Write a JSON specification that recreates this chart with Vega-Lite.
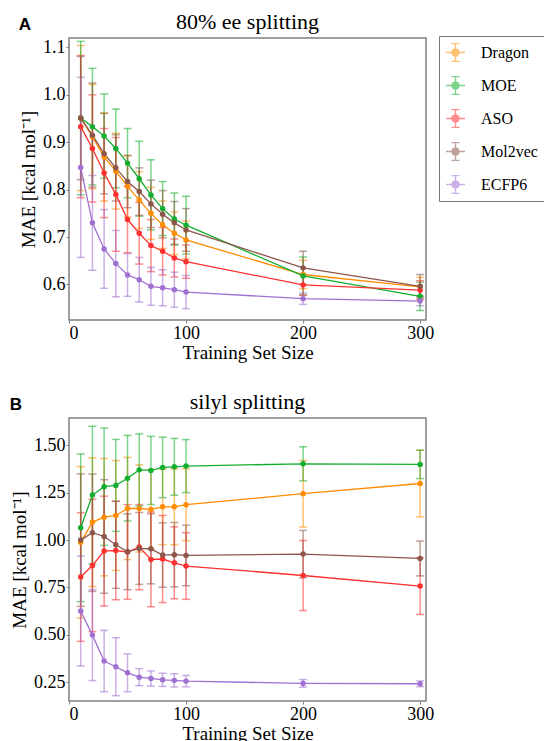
{
  "$schema": "https://vega.github.io/schema/vega-lite/v6.json",
  "padding": {"left": 9, "top": 10, "right": 0, "bottom": 0},
  "background": "white",
  "config": {
    "view": {"stroke": "#808080", "strokeWidth": 1.5},
    "font": "Liberation Serif",
    "axis": {"grid": false, "domain": false, "tickColor": "#808080", "tickSize": 3, "labelFont": "Liberation Serif", "labelFontSize": 18, "labelColor": "black", "titleFont": "Liberation Serif", "titleFontSize": 19, "titleFontWeight": "normal", "titleColor": "black", "labelPadding": 1},
    "title": {"font": "Liberation Serif", "fontSize": 22, "fontWeight": "normal", "color": "black", "offset": 4},
    "legend": {"labelFont": "Liberation Serif", "labelFontSize": 16, "labelColor": "black"}
  },
  "datasets": {
    "d": [
      {"p":"A","m":"Dragon","n":10,"v":0.951,"e":0.153},{"p":"A","m":"Dragon","n":20,"v":0.912,"e":0.11},{"p":"A","m":"Dragon","n":30,"v":0.869,"e":0.093},{"p":"A","m":"Dragon","n":40,"v":0.839,"e":0.08},{"p":"A","m":"Dragon","n":50,"v":0.807,"e":0.065},{"p":"A","m":"Dragon","n":60,"v":0.778,"e":0.06},{"p":"A","m":"Dragon","n":70,"v":0.75,"e":0.055},{"p":"A","m":"Dragon","n":80,"v":0.726,"e":0.05},{"p":"A","m":"Dragon","n":90,"v":0.708,"e":0.045},{"p":"A","m":"Dragon","n":100,"v":0.694,"e":0.04},{"p":"A","m":"Dragon","n":200,"v":0.621,"e":0.03},{"p":"A","m":"Dragon","n":300,"v":0.595,"e":0.02},
      {"p":"A","m":"MOE","n":10,"v":0.951,"e":0.162},{"p":"A","m":"MOE","n":20,"v":0.933,"e":0.123},{"p":"A","m":"MOE","n":30,"v":0.913,"e":0.089},{"p":"A","m":"MOE","n":40,"v":0.887,"e":0.083},{"p":"A","m":"MOE","n":50,"v":0.856,"e":0.073},{"p":"A","m":"MOE","n":60,"v":0.823,"e":0.079},{"p":"A","m":"MOE","n":70,"v":0.789,"e":0.074},{"p":"A","m":"MOE","n":80,"v":0.76,"e":0.057},{"p":"A","m":"MOE","n":90,"v":0.738,"e":0.055},{"p":"A","m":"MOE","n":100,"v":0.725,"e":0.061},{"p":"A","m":"MOE","n":200,"v":0.618,"e":0.04},{"p":"A","m":"MOE","n":300,"v":0.575,"e":0.03},
      {"p":"A","m":"ASO","n":10,"v":0.933,"e":0.15},{"p":"A","m":"ASO","n":20,"v":0.887,"e":0.113},{"p":"A","m":"ASO","n":30,"v":0.835,"e":0.094},{"p":"A","m":"ASO","n":40,"v":0.79,"e":0.12},{"p":"A","m":"ASO","n":50,"v":0.737,"e":0.07},{"p":"A","m":"ASO","n":60,"v":0.708,"e":0.065},{"p":"A","m":"ASO","n":70,"v":0.682,"e":0.055},{"p":"A","m":"ASO","n":80,"v":0.67,"e":0.05},{"p":"A","m":"ASO","n":90,"v":0.656,"e":0.04},{"p":"A","m":"ASO","n":100,"v":0.648,"e":0.035},{"p":"A","m":"ASO","n":200,"v":0.599,"e":0.022},{"p":"A","m":"ASO","n":300,"v":0.588,"e":0.02},
      {"p":"A","m":"Mol2vec","n":10,"v":0.951,"e":0.13},{"p":"A","m":"Mol2vec","n":20,"v":0.915,"e":0.11},{"p":"A","m":"Mol2vec","n":30,"v":0.876,"e":0.085},{"p":"A","m":"Mol2vec","n":40,"v":0.846,"e":0.07},{"p":"A","m":"Mol2vec","n":50,"v":0.817,"e":0.055},{"p":"A","m":"Mol2vec","n":60,"v":0.796,"e":0.05},{"p":"A","m":"Mol2vec","n":70,"v":0.77,"e":0.05},{"p":"A","m":"Mol2vec","n":80,"v":0.748,"e":0.05},{"p":"A","m":"Mol2vec","n":90,"v":0.73,"e":0.045},{"p":"A","m":"Mol2vec","n":100,"v":0.715,"e":0.045},{"p":"A","m":"Mol2vec","n":200,"v":0.635,"e":0.035},{"p":"A","m":"Mol2vec","n":300,"v":0.596,"e":0.025},
      {"p":"A","m":"ECFP6","n":10,"v":0.847,"e":0.19},{"p":"A","m":"ECFP6","n":20,"v":0.73,"e":0.1},{"p":"A","m":"ECFP6","n":30,"v":0.675,"e":0.083},{"p":"A","m":"ECFP6","n":40,"v":0.644,"e":0.07},{"p":"A","m":"ECFP6","n":50,"v":0.62,"e":0.045},{"p":"A","m":"ECFP6","n":60,"v":0.61,"e":0.047},{"p":"A","m":"ECFP6","n":70,"v":0.596,"e":0.04},{"p":"A","m":"ECFP6","n":80,"v":0.593,"e":0.038},{"p":"A","m":"ECFP6","n":90,"v":0.589,"e":0.037},{"p":"A","m":"ECFP6","n":100,"v":0.584,"e":0.035},{"p":"A","m":"ECFP6","n":200,"v":0.57,"e":0.012},{"p":"A","m":"ECFP6","n":300,"v":0.565,"e":0.01},
      {"p":"B","m":"Dragon","n":10,"v":0.988,"e":0.4},{"p":"B","m":"Dragon","n":20,"v":1.095,"e":0.34},{"p":"B","m":"Dragon","n":30,"v":1.121,"e":0.31},{"p":"B","m":"Dragon","n":40,"v":1.13,"e":0.29},{"p":"B","m":"Dragon","n":50,"v":1.167,"e":0.27},{"p":"B","m":"Dragon","n":60,"v":1.167,"e":0.23},{"p":"B","m":"Dragon","n":70,"v":1.162,"e":0.21},{"p":"B","m":"Dragon","n":80,"v":1.176,"e":0.2},{"p":"B","m":"Dragon","n":90,"v":1.176,"e":0.2},{"p":"B","m":"Dragon","n":100,"v":1.187,"e":0.19},{"p":"B","m":"Dragon","n":200,"v":1.245,"e":0.176},{"p":"B","m":"Dragon","n":300,"v":1.299,"e":0.176},
      {"p":"B","m":"MOE","n":10,"v":1.065,"e":0.39},{"p":"B","m":"MOE","n":20,"v":1.238,"e":0.364},{"p":"B","m":"MOE","n":30,"v":1.282,"e":0.31},{"p":"B","m":"MOE","n":40,"v":1.289,"e":0.243},{"p":"B","m":"MOE","n":50,"v":1.327,"e":0.226},{"p":"B","m":"MOE","n":60,"v":1.371,"e":0.19},{"p":"B","m":"MOE","n":70,"v":1.368,"e":0.18},{"p":"B","m":"MOE","n":80,"v":1.384,"e":0.16},{"p":"B","m":"MOE","n":90,"v":1.387,"e":0.15},{"p":"B","m":"MOE","n":100,"v":1.391,"e":0.14},{"p":"B","m":"MOE","n":200,"v":1.403,"e":0.09},{"p":"B","m":"MOE","n":300,"v":1.4,"e":0.075},
      {"p":"B","m":"ASO","n":10,"v":0.805,"e":0.34},{"p":"B","m":"ASO","n":20,"v":0.866,"e":0.35},{"p":"B","m":"ASO","n":30,"v":0.942,"e":0.29},{"p":"B","m":"ASO","n":40,"v":0.945,"e":0.26},{"p":"B","m":"ASO","n":50,"v":0.937,"e":0.25},{"p":"B","m":"ASO","n":60,"v":0.963,"e":0.225},{"p":"B","m":"ASO","n":70,"v":0.898,"e":0.25},{"p":"B","m":"ASO","n":80,"v":0.9,"e":0.23},{"p":"B","m":"ASO","n":90,"v":0.88,"e":0.19},{"p":"B","m":"ASO","n":100,"v":0.863,"e":0.176},{"p":"B","m":"ASO","n":200,"v":0.813,"e":0.185},{"p":"B","m":"ASO","n":300,"v":0.757,"e":0.15},
      {"p":"B","m":"Mol2vec","n":10,"v":1.0,"e":0.35},{"p":"B","m":"Mol2vec","n":20,"v":1.039,"e":0.31},{"p":"B","m":"Mol2vec","n":30,"v":1.019,"e":0.3},{"p":"B","m":"Mol2vec","n":40,"v":0.975,"e":0.23},{"p":"B","m":"Mol2vec","n":50,"v":0.938,"e":0.2},{"p":"B","m":"Mol2vec","n":60,"v":0.956,"e":0.19},{"p":"B","m":"Mol2vec","n":70,"v":0.954,"e":0.185},{"p":"B","m":"Mol2vec","n":80,"v":0.921,"e":0.17},{"p":"B","m":"Mol2vec","n":90,"v":0.923,"e":0.17},{"p":"B","m":"Mol2vec","n":100,"v":0.919,"e":0.16},{"p":"B","m":"Mol2vec","n":200,"v":0.926,"e":0.125},{"p":"B","m":"Mol2vec","n":300,"v":0.903,"e":0.092},
      {"p":"B","m":"ECFP6","n":10,"v":0.625,"e":0.29},{"p":"B","m":"ECFP6","n":20,"v":0.498,"e":0.24},{"p":"B","m":"ECFP6","n":30,"v":0.361,"e":0.162},{"p":"B","m":"ECFP6","n":40,"v":0.331,"e":0.153},{"p":"B","m":"ECFP6","n":50,"v":0.299,"e":0.1},{"p":"B","m":"ECFP6","n":60,"v":0.276,"e":0.045},{"p":"B","m":"ECFP6","n":70,"v":0.269,"e":0.04},{"p":"B","m":"ECFP6","n":80,"v":0.262,"e":0.035},{"p":"B","m":"ECFP6","n":90,"v":0.259,"e":0.035},{"p":"B","m":"ECFP6","n":100,"v":0.255,"e":0.03},{"p":"B","m":"ECFP6","n":200,"v":0.243,"e":0.02},{"p":"B","m":"ECFP6","n":300,"v":0.241,"e":0.015}
    ]
  },
  "spacing": 27,
  "vconcat": [
    {
      "title": {"text": "A", "anchor": "start", "frame": "bounds", "font": "Liberation Sans", "fontWeight": "bold", "fontSize": 17, "dy": 24, "offset": 0},
      "vconcat": [
        {
          "width": 357, "height": 282,
          "title": "80% ee splitting",
          "data": {"name": "d"},
          "transform": [{"filter": "datum.p == 'A'"}],
          "encoding": {
            "x": {"field": "n", "type": "quantitative", "scale": {"domain": [0, 305], "nice": false, "zero": false}, "axis": {"values": [0, 100, 200, 300], "title": "Training Set Size", "titlePadding": 1}},
            "color": {"field": "m", "type": "nominal", "scale": {"domain": ["Dragon", "MOE", "ASO", "Mol2vec", "ECFP6"], "range": ["#ff8c00", "#14ae2f", "#ff3030", "#8c564b", "#a070d0"]}, "legend": {"title": null, "orient": "none", "legendX": 370, "legendY": -2, "strokeColor": "#777", "padding": 7, "rowPadding": 14, "symbolSize": 361, "symbolStrokeWidth": 0, "labelOffset": 16, "labelFont": "Liberation Serif", "labelFontSize": 16, "symbolType": "M0.45,0 A0.45,0.45 0 1,1 -0.45,0 A0.45,0.45 0 1,1 0.45,0 Z M-1,-0.07 L1,-0.07 L1,0.07 L-1,0.07 Z M-0.07,-0.95 L0.07,-0.95 L0.07,0.95 L-0.07,0.95 Z M-0.42,-1 L0.42,-1 L0.42,-0.86 L-0.42,-0.86 Z M-0.42,0.86 L0.42,0.86 L0.42,1 L-0.42,1 Z"}}
          },
          "layer": [
            {"mark": {"type": "errorbar", "ticks": {"size": 8}, "thickness": 1.5, "opacity": 0.55},
             "encoding": {"y": {"field": "v", "type": "quantitative", "scale": {"domain": [0.525, 1.12], "nice": false, "zero": false}, "axis": {"values": [0.6, 0.7, 0.8, 0.9, 1.0, 1.1], "format": ".1f", "title": "MAE [kcal mol⁻¹]", "titlePadding": 4}}, "yError": {"field": "e"}}},
            {"mark": {"type": "line", "strokeWidth": 1.3}, "encoding": {"y": {"field": "v", "type": "quantitative"}}},
            {"mark": {"type": "point", "filled": true, "size": 30, "opacity": 1}, "encoding": {"y": {"field": "v", "type": "quantitative"}}}
          ]
        }
      ]
    },
    {
      "title": {"text": "B", "anchor": "start", "frame": "bounds", "font": "Liberation Sans", "fontWeight": "bold", "fontSize": 17, "dy": 24, "offset": 0},
      "vconcat": [
        {
          "width": 357, "height": 283,
          "title": "silyl splitting",
          "data": {"name": "d"},
          "transform": [{"filter": "datum.p == 'B'"}],
          "encoding": {
            "x": {"field": "n", "type": "quantitative", "scale": {"domain": [0, 305], "nice": false, "zero": false}, "axis": {"values": [0, 100, 200, 300], "title": "Training Set Size", "titlePadding": 1}},
            "color": {"field": "m", "type": "nominal"}
          },
          "layer": [
            {"mark": {"type": "errorbar", "ticks": {"size": 8}, "thickness": 1.5, "opacity": 0.55},
             "encoding": {"y": {"field": "v", "type": "quantitative", "scale": {"domain": [0.15, 1.645], "nice": false, "zero": false}, "axis": {"values": [0.25, 0.5, 0.75, 1.0, 1.25, 1.5], "format": ".2f", "title": "MAE [kcal mol⁻¹]", "titlePadding": 4}}, "yError": {"field": "e"}}},
            {"mark": {"type": "line", "strokeWidth": 1.3}, "encoding": {"y": {"field": "v", "type": "quantitative"}}},
            {"mark": {"type": "point", "filled": true, "size": 30, "opacity": 1}, "encoding": {"y": {"field": "v", "type": "quantitative"}}}
          ]
        }
      ]
    }
  ]
}
